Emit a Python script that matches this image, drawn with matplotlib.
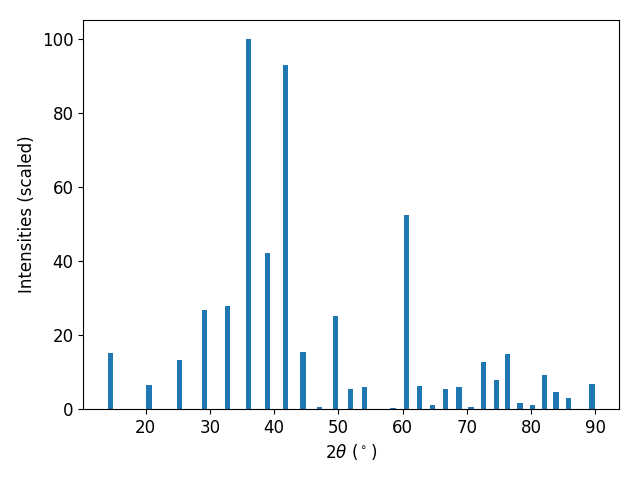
import numpy as np
import matplotlib
matplotlib.use("Agg")
from matplotlib import pyplot as plt

# peak positions (2theta, deg) and scaled intensities
two_theta = [14.45, 20.5, 25.3, 29.2, 32.8, 36.05, 39.0, 41.8, 44.5, 47.1,
             49.6, 51.9, 54.1, 58.5, 60.6, 62.7, 64.7, 66.75, 68.8, 70.65,
             72.6, 74.6, 76.4, 78.3, 80.2, 82.1, 83.9, 85.8, 89.5]
intensity = [15.0, 6.5, 13.3, 26.6, 27.9, 100.0, 42.0, 93.0, 15.5, 0.5,
             25.2, 5.4, 6.0, 0.3, 52.3, 6.2, 1.1, 5.4, 6.0, 0.5,
             12.7, 7.9, 14.9, 1.6, 1.1, 9.2, 4.6, 3.0, 6.8]

plt.rcParams['font.size'] = 12

fig, ax = plt.subplots(figsize=(6.4, 4.8), dpi=100)
ax.bar(two_theta, intensity)
ax.set_xlabel(r'2$\theta$ ($^\circ$)')
ax.set_ylabel('Intensities (scaled)')
fig.subplots_adjust(left=0.130, right=0.967, top=0.958, bottom=0.148)
fig.savefig('out.png')
